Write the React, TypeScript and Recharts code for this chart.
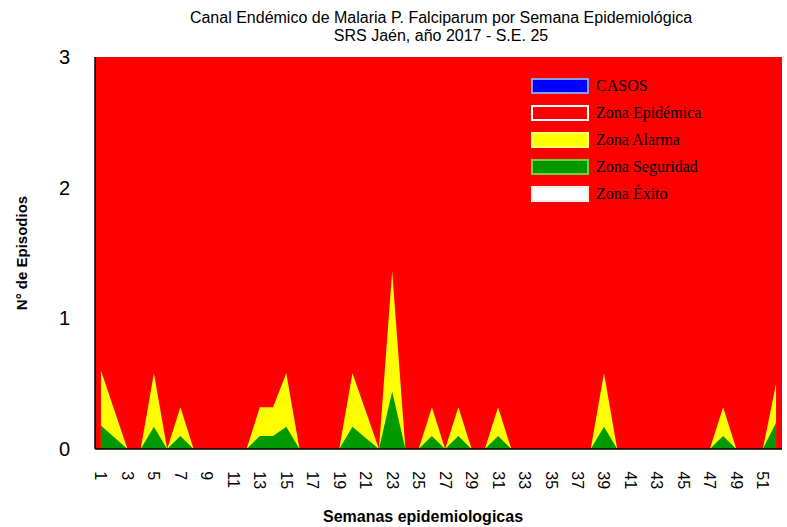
import React from "react";
import {
  AreaChart,
  Area,
  XAxis,
  YAxis,
  CartesianGrid,
  Legend,
} from "recharts";

// semanas epidemiológicas
const weeks = [
  1, 2, 3, 4, 5, 6, 7, 8, 9, 10, 11, 12, 13, 14, 15, 16, 17, 18, 19, 20, 21,
  22, 23, 24, 25, 26, 27, 28, 29, 30, 31, 32, 33, 34, 35, 36, 37, 38, 39, 40,
  41, 42, 43, 44, 45, 46, 47, 48, 49, 50, 51, 52,
];

// límite superior zona alarma
const alarma = [
  0.6, 0.3, 0, 0, 0.58, 0, 0.32, 0, 0, 0, 0, 0, 0.32, 0.32, 0.58, 0, 0, 0, 0,
  0.58, 0.29, 0, 1.36, 0, 0, 0.32, 0, 0.32, 0, 0, 0.32, 0, 0, 0, 0, 0, 0, 0,
  0.58, 0, 0, 0, 0, 0, 0, 0, 0, 0.32, 0, 0, 0, 0.5,
];

// límite superior zona seguridad
const seguridad = [
  0.18, 0.09, 0, 0, 0.17, 0, 0.1, 0, 0, 0, 0, 0, 0.1, 0.1, 0.17, 0, 0, 0, 0,
  0.17, 0.085, 0, 0.44, 0, 0, 0.1, 0, 0.1, 0, 0, 0.1, 0, 0, 0, 0, 0, 0, 0,
  0.17, 0, 0, 0, 0, 0, 0, 0, 0, 0.1, 0, 0, 0, 0.2,
];

const weekTicks = [
  1, 3, 5, 7, 9, 11, 13, 15, 17, 19, 21, 23, 25, 27, 29, 31, 33, 35, 37, 39,
  41, 43, 45, 47, 49, 51,
];
const yTicks = [0, 1, 2, 3];

const legendItems = [
  { label: "CASOS", fill: "#0000ff", border: "#8a9be6" },
  { label: "Zona Epidémica", fill: "#ff0000", border: "#ffffff" },
  { label: "Zona Alarma", fill: "#ffff00", border: "#ffff66" },
  { label: "Zona Seguridad", fill: "#009900", border: "#77cc44" },
  { label: "Zona Éxito", fill: "#ffffff", border: "#eeeeee" },
];

const data = weeks.map((w, i) => ({
  semana: w,
  alarma: alarma[i],
  seguridad: seguridad[i],
}));

const sans = "'Liberation Sans', Arial, sans-serif";

const renderLegend = () => (
  <div style={{ display: "flex", flexDirection: "column" }}>
    {legendItems.map((it) => (
      <div
        key={it.label}
        style={{ display: "flex", alignItems: "center", height: 27 }}
      >
        <span
          style={{
            display: "inline-block",
            boxSizing: "border-box",
            width: 58,
            height: 16,
            background: it.fill,
            border: `2px solid ${it.border}`,
          }}
        />
        <span
          style={{
            marginLeft: 7,
            fontFamily: "'Liberation Serif', 'Times New Roman', serif",
            fontSize: 16,
            color: "#000",
          }}
        >
          {it.label}
        </span>
      </div>
    ))}
  </div>
);

export default function App() {
  return (
    <div style={{ position: "absolute", left: 0, top: 0 }}>
      <AreaChart
        width={787}
        height={527}
        data={data}
        margin={{ top: 57, right: 5, bottom: 38, left: 0 }}
      >
        <CartesianGrid fill="#ff0000" horizontal={false} vertical={false} />
        <XAxis
          dataKey="semana"
          type="number"
          domain={[0.55, 52.45]}
          ticks={weekTicks}
          interval={0}
          allowDataOverflow
          height={40}
          tickLine={false}
          tickSize={6}
          tickMargin={5}
          tick={{
            fontSize: 16,
            fontFamily: sans,
            fill: "#000",
            textAnchor: "start",
            verticalAnchor: "end",
            style: { writingMode: "vertical-rl" },
          }}
          axisLine={{ stroke: "#000", strokeWidth: 1.5 }}
        />
        <XAxis
          xAxisId="top"
          orientation="top"
          dataKey="semana"
          type="number"
          domain={[0.55, 52.45]}
          height={0}
          tick={false}
          tickLine={false}
          axisLine={{ stroke: "#555", strokeWidth: 1.5 }}
        />
        <YAxis
          type="number"
          domain={[0, 3]}
          ticks={yTicks}
          width={95}
          tickLine={false}
          tickSize={23}
          tickMargin={2}
          tick={{ fontSize: 20, fontFamily: sans, fill: "#000" }}
          axisLine={{ stroke: "#000", strokeWidth: 1.5 }}
        />
        <YAxis
          yAxisId="right"
          orientation="right"
          type="number"
          domain={[0, 3]}
          width={0}
          tick={false}
          tickLine={false}
          axisLine={{ stroke: "#555", strokeWidth: 1.5 }}
        />
        <Area
          type="linear"
          dataKey="alarma"
          fill="#ffff00"
          fillOpacity={1}
          stroke="none"
          isAnimationActive={false}
        />
        <Area
          type="linear"
          dataKey="seguridad"
          fill="#009900"
          fillOpacity={1}
          stroke="none"
          isAnimationActive={false}
        />
        <Legend
          layout="horizontal"
          verticalAlign="middle"
          align="center"
          content={renderLegend}
          wrapperStyle={{ left: 531, top: 72, width: 200 }}
        />
        <text
          x={441}
          y={23}
          textAnchor="middle"
          fontSize={16}
          fontFamily={sans}
          fill="#000"
        >
          Canal Endémico de Malaria P. Falciparum por Semana Epidemiológica
        </text>
        <text
          x={441}
          y={41}
          textAnchor="middle"
          fontSize={16}
          fontFamily={sans}
          fill="#000"
        >
          SRS Jaén, año 2017 - S.E. 25
        </text>
        <text
          x={21}
          y={253}
          transform="rotate(-90, 21, 253)"
          textAnchor="middle"
          dominantBaseline="central"
          fontSize={15}
          fontWeight="bold"
          fontFamily={sans}
          fill="#000"
        >
          N° de Episodios
        </text>
        <text
          x={423}
          y={522}
          textAnchor="middle"
          fontSize={16}
          fontWeight="bold"
          fontFamily={sans}
          fill="#000"
        >
          Semanas epidemiologicas
        </text>
      </AreaChart>
    </div>
  );
}
